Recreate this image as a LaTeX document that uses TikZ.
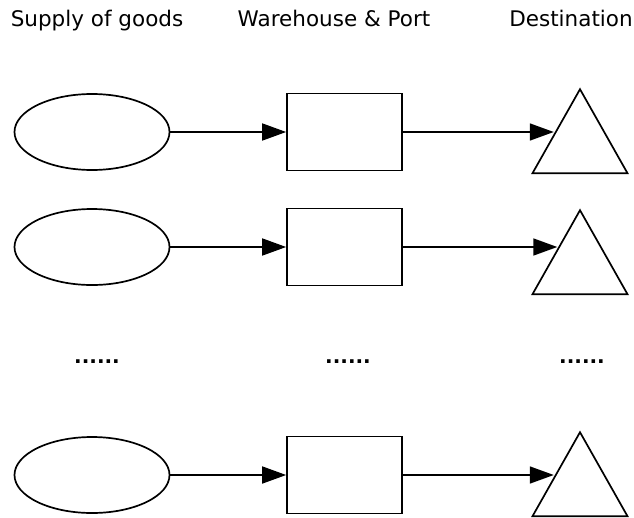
\documentclass[tikz,border=0pt]{standalone}
\usepackage{fontspec}
\setmainfont{DejaVu Sans}
\usetikzlibrary{shapes.geometric,arrows.meta,calc}
\begin{document}
\begin{tikzpicture}[x=1pt,y=-1pt,
  src/.style={draw,line width=1.7pt,ellipse,minimum width=155pt,minimum height=76pt,inner sep=0pt},
  hub/.style={draw,line width=1.7pt,rectangle,minimum width=115pt,minimum height=77pt,inner sep=0pt},
  dst/.style={draw,line width=1.7pt,isosceles triangle,isosceles triangle stretches,shape border rotate=90,minimum width=95pt,minimum height=84pt,inner sep=0pt,anchor=apex},
  arr/.style={line width=1.7pt,-{Triangle[length=24pt,width=17pt]}},
  hdr/.style={font=\fontsize{21.5}{24}\selectfont,inner sep=0pt,anchor=base},
  dots/.style={font=\bfseries\fontsize{20}{24}\selectfont,inner sep=0pt,anchor=base}]
\useasboundingbox (0,0) rectangle (634,517);
\node[hdr] (h1) at (97,26) {Supply of goods};
\node[hdr] (h2) at (334,26) {Warehouse \& Port};
\node[hdr] (h3) at (571,26) {Destination};
\foreach \i/\y/\a/\f in {1/132/87/0.536,2/247/208/0.464,3/475/430/0.536}{
  \node[src] (s\i) at (92,\y) {};
  \node[hub] (r\i) at (344.5,\y) {};
  \node[dst] (t\i) at (580,\a) {};
  \coordinate (e\i) at ($(t\i.apex)!\f!(t\i.left corner)$);
  \draw[arr] (s\i.east) -- (r\i.west);
  \draw[arr] (r\i.east) -- (r\i.east -| e\i);
}
\node[dots] (d1) at (97,363) {......};
\node[dots] (d2) at (348,363) {......};
\node[dots] (d3) at (582,363) {......};
\end{tikzpicture}
\end{document}
